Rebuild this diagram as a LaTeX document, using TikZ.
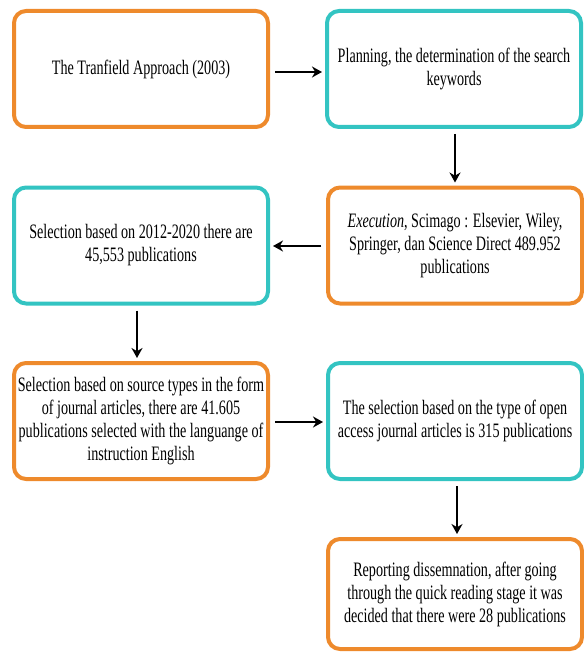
\documentclass[tikz,border=0pt]{standalone}
\usepackage{fontspec}
\setmainfont{Liberation Serif}[FakeStretch=0.69]
\usetikzlibrary{arrows.meta}
\definecolor{boxorange}{HTML}{EE8A2C}
\definecolor{boxteal}{HTML}{33C4C2}

\begin{document}
\begin{tikzpicture}[x=1pt,y=-1pt]
\tikzstyle{every node}+=[inner sep=0pt]
\tikzstyle{stagebox}=[line width=4pt, rounded corners=12pt, fill=white, align=center,
  minimum width=254pt, minimum height=116pt, font=\fontsize{20.5}{23}\selectfont]
\tikzstyle{orangebox}=[stagebox, draw=boxorange]
\tikzstyle{tealbox}=[stagebox, draw=boxteal]
\tikzstyle{flow}=[line width=2pt, -{Stealth[length=10pt,width=11pt]}, shorten <=5pt, shorten >=3pt]
\useasboundingbox (0,0) rectangle (583,655);
% boxes
\node [orangebox] (approach) at (141,69) {The Tranfield Approach (2003)};
\node [tealbox] (planning) at (454,69) {Planning, the determination of the search\\keywords};
\node [orangebox] (execution) at (455,245.5) {\textit{Execution}, Scimago : Elsevier, Wiley,\\Springer, dan Science Direct 489.952\\publications};
\node [tealbox] (years) at (141,245.5) {Selection based on 2012-2020 there are\\45,553 publications};
\node [orangebox] (source) at (141,421) {Selection based on source types in the form\\of journal articles, there are 41.605\\publications selected with the languange of\\instruction English};
\node [tealbox] (openaccess) at (455,421) {The selection based on the type of open\\access journal articles is 315 publications};
\node [orangebox, minimum height=110pt] (report) at (455,594) {Reporting dissemnation, after going\\through the quick reading stage it was\\decided that there were 28 publications};
% arrows
\draw [flow] (approach.east |- 0,72) -- (planning.west |- 0,72);
\draw [flow] (planning.south -| 455,0) -- (execution.north -| 455,0);
\draw [flow] (execution.west |- 0,246) -- (years.east |- 0,246);
\draw [flow] (years.south -| 137,0) -- (source.north -| 137,0);
\draw [flow] (source.east |- 0,422) -- (openaccess.west |- 0,422);
\draw [flow] (openaccess.south -| 457,0) -- (report.north -| 457,0);
\end{tikzpicture}
\end{document}
